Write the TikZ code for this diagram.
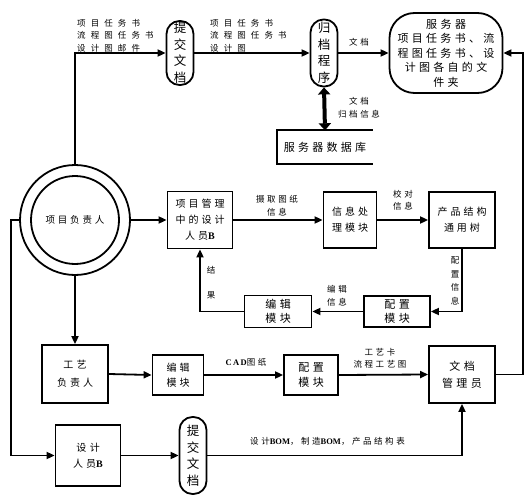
\documentclass[tikz,border=0pt]{standalone}
\usepackage{fontspec}
\setmainfont{Liberation Serif}
\newfontfamily\cjkbox[LetterSpace=30]{Noto Sans CJK SC}
\newfontfamily\cjkwide[LetterSpace=60]{Noto Sans CJK SC}
\newfontfamily\cjklab[LetterSpace=30]{Noto Sans CJK SC}
\newfontfamily\cjkplain{Noto Sans CJK SC}
\newcommand\latb[1]{{\rmfamily\bfseries #1}}
\newcommand\gap{\hspace{3.5pt}}
\usetikzlibrary{arrows.meta}
\begin{document}
\begin{tikzpicture}[x=1pt,y=-1pt,
  lw/.style={line width=1.8pt},
  arr/.style={lw,-{Triangle[length=8pt,width=7pt]}},
  box/.style={draw,lw,align=center,inner sep=0pt,font=\cjkbox\fontsize{10}{16}\selectfont},
  pill/.style={draw,lw,rounded corners=13pt,align=center,inner sep=0pt,minimum width=27pt,font=\cjkplain\fontsize{12.5}{16.5}\selectfont},
  labw/.style={align=left,inner sep=0pt,font=\cjkwide\fontsize{8.5}{12.5}\selectfont},
  lab/.style={align=center,inner sep=0pt,font=\cjklab\fontsize{8.5}{12.5}\selectfont},
]
\useasboundingbox (0,0) rectangle (530,500);

% leader circle
\node[draw,lw,circle,minimum size=110pt,inner sep=0pt] (lead) at (75,220) {};
\node[draw,lw,circle,minimum size=88pt,inner sep=0pt,font=\cjkbox\fontsize{9.5}{12}\selectfont] (leadin) at (75,220) {项目负责人};

% top row
\node[pill,minimum height=64pt] (sub1) at (180,53) {提\\交\\文\\档};
\node[pill,minimum height=67pt] (arch) at (324,53) {归\\档\\程\\序};
\node[draw,lw,rounded corners=25pt,minimum width=113pt,minimum height=80pt,align=center,inner sep=0pt,font=\cjkbox\fontsize{11}{14.5}\selectfont] (server) at (446,53) {服\gap 务\gap 器\\项目任务书、流\\程图任务书、设\\计图各自的文\\件夹};
\node[minimum width=95pt,minimum height=33pt,inner sep=0pt,font=\cjkbox\fontsize{11}{14}\selectfont] (db) at (325,147) {服务器数据库};

\node[labw,anchor=west] (l1) at (77,35.5) {项目任务书\\流程图任务书\\设计图邮件};
\node[labw,anchor=west] (l2) at (210,35.5) {项目任务书\\流程图任务书\\设计图};
\node[lab] (l3) at (359,42) {文档};
\node[lab] (l4) at (359,108) {文档\\归档信息};

% middle row
\node[box,minimum width=65pt,minimum height=57pt] (desmgr) at (200,220) {项目管理\\中的设计\\人员\latb{B}};
\node[box,minimum width=53pt,minimum height=56pt] (info) at (350,220) {信息处\\理模块};
\node[box,minimum width=66pt,minimum height=56pt] (tree) at (462,220) {产品结构\\通用树};
\node[box,minimum width=66pt,minimum height=31pt,font=\cjkbox\fontsize{11}{14}\selectfont] (cfg2) at (397,311.5) {配\gap 置\\模\gap 块};
\node[box,minimum width=67pt,minimum height=32pt,font=\cjkbox\fontsize{11}{14}\selectfont] (ed1) at (278,311.5) {编\gap 辑\\模\gap 块};

\node[lab] (l5) at (277,206) {摄取图纸\\信息};
\node[lab] (l6) at (403,200.5) {校对\\信息};
\node[lab,font=\cjklab\fontsize{8.5}{13.5}\selectfont] (l7) at (455,281) {配\\置\\信\\息};
\node[lab] (l8) at (337,296) {编辑\\信息};
\node[lab,font=\cjklab\fontsize{8.5}{25}\selectfont] (l9) at (211,283) {结\\果};

% bottom rows
\node[box,minimum width=66pt,minimum height=58pt,font=\cjkbox\fontsize{10}{18}\selectfont] (craft) at (75,374) {工\gap 艺\\负责人};
\node[box,minimum width=51pt,minimum height=40pt,font=\cjkbox\fontsize{10}{15}\selectfont] (ed2) at (178,375) {编辑\\模块};
\node[box,minimum width=54pt,minimum height=40pt,font=\cjkbox\fontsize{11}{15}\selectfont] (cfg3) at (311,375) {配\gap 置\\模\gap 块};
\node[box,minimum width=66pt,minimum height=57pt,font=\cjkbox\fontsize{11}{17}\selectfont] (mgr) at (462,374.5) {文\gap 档\\管理员};
\node[box,minimum width=65pt,minimum height=61pt,font=\cjkbox\fontsize{10}{15.5}\selectfont] (desB) at (88,455.5) {设\gap 计\\人员\latb{B}};
\node[pill,minimum height=77pt] (sub3) at (193,455.5) {提\\交\\文\\档};

\node[lab] (l10) at (246,362) {\latb{C\,A\,D}图纸};
\node[lab,font=\cjklab\fontsize{8.5}{12}\selectfont] (l11) at (380,358) {工艺卡\\流程工艺图};
\node[lab] (l12) at (327.5,441) {设计\latb{BOM}，制造\latb{BOM}，产品结构表};

% connectors
\coordinate (lc) at (11,220);
\coordinate (rc) at (523,374.5);
\draw[arr] (lead.north) |- (sub1.west);
\draw[arr] (sub1.east) -- (arch.west);
\draw[arr] (arch.east) -- (server.west);
\draw[line width=4pt,{Triangle[length=7pt,width=12pt]}-{Triangle[length=7pt,width=12pt]}] (arch.south) -- (db.north);
\draw[lw] (db.north east) -- (db.north west) -- (db.south west) -- (db.south east);
\draw[arr] (mgr.east) -- (rc) |- (server.east);

\draw[arr] (lead.east) -- (desmgr.west);
\draw[arr] (desmgr.east) -- (info.west);
\draw[arr] (info.east) -- (tree.west);
\draw[arr] (tree.south) |- (cfg2.east);
\draw[arr] (cfg2.west) -- (ed1.east);
\draw[arr] (ed1.west) -| (desmgr.south);

\draw[arr] (lead.south) -- (craft.north);
\draw[arr] (lead.west) -- (lc) |- (desB.west);
\draw[arr] (craft.east) -- (ed2.west);
\draw[arr] (ed2.east) -- (cfg3.west);
\draw[arr] (cfg3.east) -- (mgr.west);
\draw[arr] (desB.east) -- (sub3.west);
\draw[arr] (sub3.east) -| (mgr.south);
\end{tikzpicture}
\end{document}
